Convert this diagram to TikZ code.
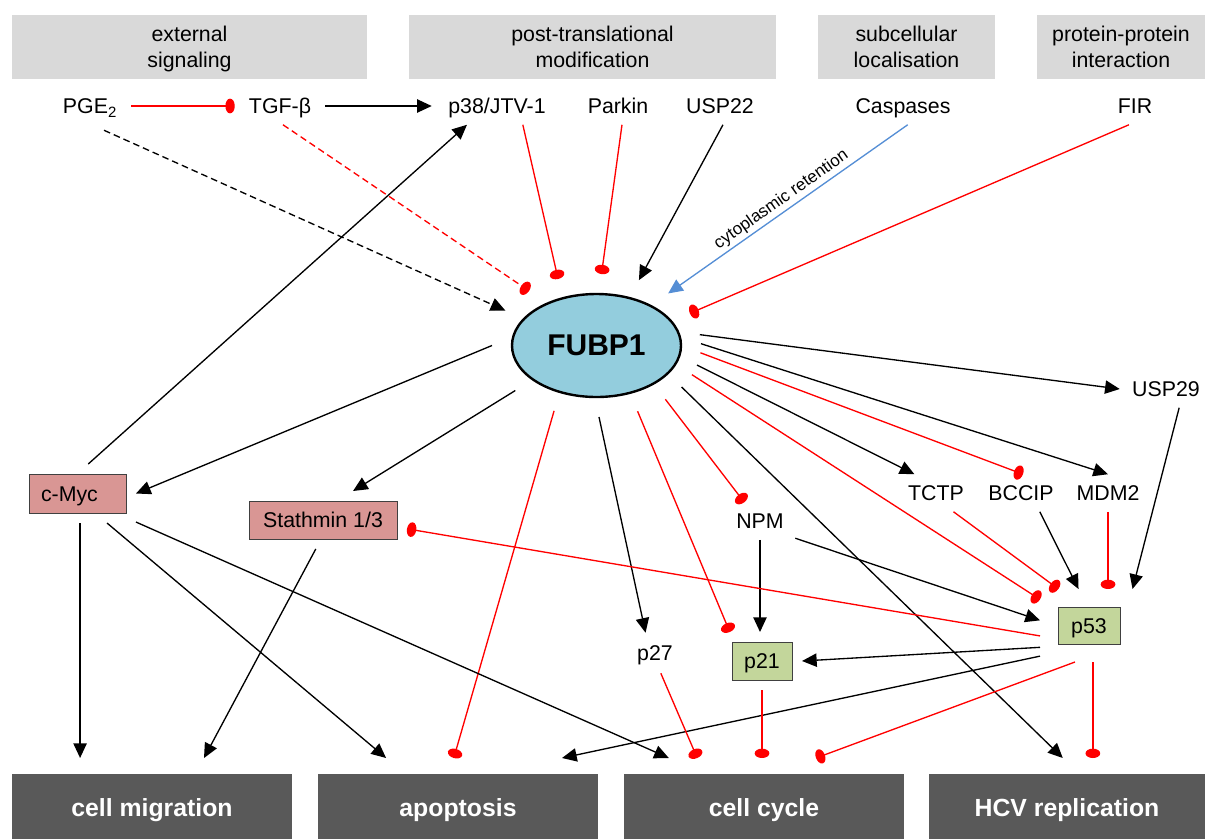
\documentclass[tikz,border=0pt]{standalone}
\usepackage{fontspec}
\setmainfont{Liberation Sans}
\usetikzlibrary{arrows.meta, shapes.geometric}

\definecolor{hdrgray}{HTML}{D9D9D9}
\definecolor{outgray}{HTML}{595959}
\definecolor{fubpblue}{HTML}{93CDDD}
\definecolor{rosebox}{HTML}{D99694}
\definecolor{greenbox}{HTML}{C3D69B}
\definecolor{locblue}{HTML}{558ED5}

\begin{document}
\begin{tikzpicture}[x=0.75pt, y=-0.75pt,
    font=\fontsize{16}{19.5}\selectfont,
    hdr/.style={fill=hdrgray, align=center, minimum height=48pt, inner sep=0pt, text depth=0pt},
    outc/.style={fill=outgray, text=white, font=\fontsize{18.6}{22}\selectfont\bfseries,
      minimum height=48.75pt, inner sep=0pt, outer sep=12pt, text height=15.5pt, text depth=0pt},
    prot/.style={inner sep=0pt, minimum height=27.75pt, text height=11.5pt, text depth=0pt},
    pbox/.style={prot, draw=black!75, line width=0.75pt, outer sep=7.5pt, minimum height=28.5pt},
    act/.style={line width=1pt, -{Triangle[length=11pt,width=10pt]}},
    inh/.style={draw=red, line width=1pt, -{Ellipse[length=7pt,width=11pt]}},
    dashline/.style={dash pattern=on 5pt off 3pt}]
  \useasboundingbox (0,0) rectangle (1205,839);
  % categories
  \node[hdr, minimum width=266.25pt] (hext) at (189.5,47) {external\\signaling};
  \node[hdr, minimum width=275.25pt] (hptm) at (592.5,47) {post-translational\\modification};
  \node[hdr, minimum width=132.75pt] (hloc) at (906.5,47) {subcellular\\localisation};
  \node[hdr, minimum width=126pt] (hppi) at (1121,47) {protein-protein\\interaction};
  % regulators
  \node[prot, minimum width=61.5pt, minimum height=36pt] (pge) at (90,106) {PGE\textsubscript{2}};
  \node[prot, minimum width=67.5pt] (tgf) at (280,106) {TGF-β};
  \node[prot, minimum width=97.5pt] (p38) at (497,106) {p38/JTV-1};
  \node[prot, minimum width=60pt] (parkin) at (618,106) {Parkin};
  \node[prot, minimum width=60pt] (usp22) at (720,106) {USP22};
  \node[prot, minimum width=82.5pt] (casp) at (903,106) {Caspases};
  \node[prot, minimum width=30pt] (fir) at (1135,106) {FIR};
  \node[draw, ellipse, fill=fubpblue, line width=1.8pt, minimum width=126.75pt, minimum height=77.25pt,
    inner sep=0pt, outer sep=15pt, font=\fontsize{22.5}{27}\selectfont\bfseries] (fubp) at (596.5,345.5) {FUBP1};
  % targets
  \node[pbox, fill=rosebox, minimum width=72.75pt, minimum height=29.25pt, text width=54.75pt,
    inner xsep=9pt, align=left] (cmyc) at (77.5,493.5) {c-Myc};
  \node[pbox, fill=rosebox, minimum width=111pt] (stath) at (323,520) {Stathmin 1/3};
  \node[prot, minimum width=52.5pt] (npm) at (760,521) {NPM};
  \node[prot, minimum width=30pt, minimum height=30pt] (p27) at (655,653) {p27};
  \node[pbox, fill=greenbox, minimum width=45pt] (p21) at (762,661) {p21};
  \node[pbox, fill=greenbox, minimum width=46.5pt, minimum height=27.75pt, outer sep=13.5pt] (p53) at (1089,625.5) {p53};
  \node[prot, minimum width=42pt] (tctp) at (936,493) {TCTP};
  \node[prot, minimum width=52.5pt] (bccip) at (1021,493) {BCCIP};
  \node[prot, minimum width=52.5pt] (mdm2) at (1108,493) {MDM2};
  \node[prot, minimum width=69pt] (usp29) at (1166,389) {USP29};
  % outcomes
  \node[outc, minimum width=210pt] (mig) at (152,806.5) {cell migration};
  \node[outc, minimum width=210pt] (apop) at (458,806.5) {apoptosis};
  \node[outc, minimum width=210pt] (cyc) at (764,806.5) {cell cycle};
  \node[outc, minimum width=207pt] (hcv) at (1067,806.5) {HCV replication};

  % upstream of FUBP1
  \draw[inh] (pge.east) -- (tgf.west);
  \draw[act] (tgf.east) -- (p38.west);
  \draw[act, dashline] (pge.300) -- (fubp.159.6);
  \draw[inh, dashline] (tgf.279) -- (fubp.141.2);
  \draw[inh] (p38.324.2) -- (fubp.120.8);
  \draw[inh] (parkin.282.5) -- (fubp.86.7);
  \draw[act] (usp22.279) -- (fubp.57.1);
  \draw[act, draw=locblue] (casp.284.7) -- node[sloped, above, inner sep=2pt,
    font=\fontsize{12.75}{15}\selectfont] {cytoplasmic retention} (fubp.36.4);
  \draw[inh] (fir.252.5) -- (fubp.19.9);
  \draw[act] (cmyc.70.4) -- (p38.212.7);
  % downstream of FUBP1
  \draw[act] (fubp.180) -- (cmyc.east);
  \draw[act] (fubp.209.7) -- (stath.44);
  \draw[inh] (fubp.237.2) -- (apop.95.9);
  \draw[act] (fubp.272.8) -- (p27.115.2);
  \draw[inh] (fubp.302.9) -- (p21.138.7);
  \draw[inh] (fubp.322.8) -- (npm.130.6);
  \draw[act] (fubp.334.1) -- (hcv.95.9);
  \draw[inh] (fubp.343.9) -- (p53.152.5);
  \draw[act] (fubp.349.6) -- (tctp.139.4);
  \draw[inh] (fubp.356.3) -- (bccip.84);
  \draw[act] (fubp.1.4) -- (mdm2.north);
  \draw[act] (fubp.6.5) -- (usp29.west);
  % c-Myc and Stathmin
  \draw[act] (cmyc.275) -- (cmyc.275 |- mig.north);
  \draw[act] (cmyc.315) -- (apop.146.4);
  \draw[act] (cmyc.334.8) -- (cyc.153.4);
  \draw[act] (stath.256.4) -- (mig.43);
  % p53 network
  \draw[act] (npm.south) -- (npm.south |- p21.north);
  \draw[act] (npm.334.1) -- (p53.174.8);
  \draw[inh] (tctp.313.4) -- (p53.130.3);
  \draw[act] (bccip.315) -- (p53.106.8);
  \draw[inh] (mdm2.south) -- (mdm2.south |- p53.north);
  \draw[act] (usp29.305.8) -- (p53.40.3);
  \draw[inh] (p53.192.1) -- (stath.354.6);
  \draw[act] (p53.204.7) -- (p21.east);
  \draw[act] (p53.212.7) -- (apop.25);
  \draw[inh] (p53.249) -- (cyc.43.6);
  \draw[inh] (p53.276.3) -- (p53.276.3 |- hcv.north);
  \draw[inh] (p27.286.3) -- (cyc.144.1);
  \draw[inh] (p21.south) -- (p21.south |- cyc.north);
\end{tikzpicture}
\end{document}
